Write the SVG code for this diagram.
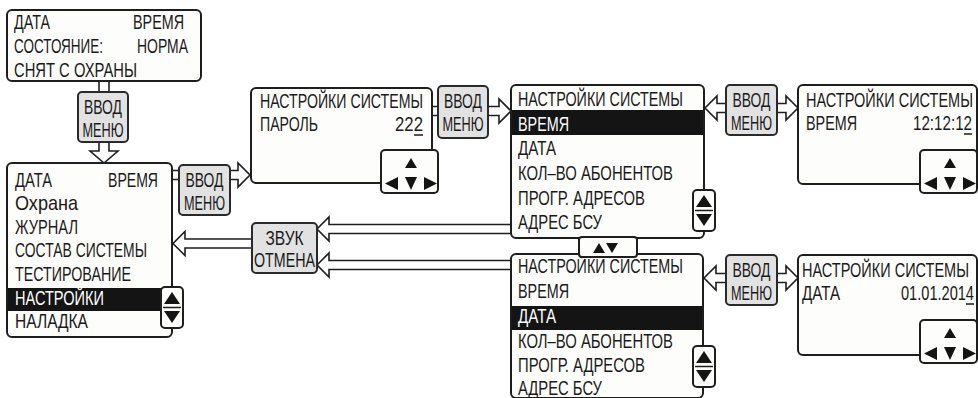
<svg xmlns="http://www.w3.org/2000/svg" xmlns:xlink="http://www.w3.org/1999/xlink" width="978" height="398" viewBox="0 0 978 398">
<style>
.box{fill:#fdfdfb;stroke:#1e1e1e;stroke-width:2}
.btn{fill:#e2e2e2;stroke:#2a2a2a;stroke-width:2}
.nav{fill:#fdfdfb;stroke:#1e1e1e;stroke-width:2}
.bar{fill:#141414}
.tri{fill:#141414}
.arr{fill:#ffffff;stroke:#1e1e1e;stroke-width:1.6;stroke-linejoin:miter}
.t{font-family:"Liberation Sans","DejaVu Sans",sans-serif;font-size:20px;fill:#1a1a1a}
.w{fill:#ffffff}
.ul{stroke:#1a1a1a;stroke-width:1.5}
</style>
<defs>
<g id="navbtn">
<rect class="nav" x="0" y="0" width="57" height="43" rx="4"/>
<polygon class="tri" points="24,18 36,18 30,8"/>
<polygon class="tri" points="4,33.5 17,27 17,40"/>
<polygon class="tri" points="24,27 36,27 30,40"/>
<polygon class="tri" points="43,27 43,40 56,33.5"/>
</g>
<g id="scroll">
<rect class="nav" x="0" y="0" width="22" height="41" rx="4"/>
<polygon class="tri" points="3,17 19,17 11,5"/>
<line x1="2" y1="20.5" x2="20" y2="20.5" stroke="#1e1e1e" stroke-width="1.5"/>
<polygon class="tri" points="3,24 19,24 11,36"/>
</g>
</defs>

<g id="connectors">
<path class="arr" d="M99,81 V151 H90 L104,163 L118,151 H109 V81"/>
<path class="arr" d="M172,170.5 H238 V163 L250,175 L238,187 V179.5 H172"/>
<path class="arr" d="M432,106.5 H499 V99 L511,111 L499,123 V115.5 H432"/>
<path class="arr" d="M705,108 L717,96 V103.5 H786 V96 L798,108 L786,120 V112.5 H717 V120 Z"/>
<path class="arr" d="M704,278 L716,266 V273.5 H786 V266 L798,278 L786,290 V282.5 H716 V290 Z"/>
<path class="arr" d="M511,224.5 H329 V217 L317,229 L329,241 V233.5 H511"/>
<path class="arr" d="M511,260.5 H329 V253 L317,265 L329,277 V269.5 H511"/>
<path class="arr" d="M252,239 H185 V231.5 L173,243.5 L185,255.5 V248 H252"/>
</g>

<g id="status">
<rect class="box" x="7" y="10" width="194" height="71" rx="5"/>
<text class="t" transform="matrix(0.75 0 0 1 14 29)" textLength="48" lengthAdjust="spacingAndGlyphs">ДАТА</text>
<text class="t" transform="matrix(0.75 0 0 1 133 29)" textLength="68" lengthAdjust="spacingAndGlyphs">ВРЕМЯ</text>
<text class="t" transform="matrix(0.75 0 0 1 14 53)" textLength="118.7" lengthAdjust="spacingAndGlyphs">СОСТОЯНИЕ:</text>
<text class="t" transform="matrix(0.75 0 0 1 137 53)" textLength="68" lengthAdjust="spacingAndGlyphs">НОРМА</text>
<text class="t" transform="matrix(0.75 0 0 1 14 77)" textLength="164" lengthAdjust="spacingAndGlyphs">СНЯТ С ОХРАНЫ</text>
</g>

<g id="btn-enter-1">
<rect class="btn" x="78" y="92" width="50" height="50" rx="4"/>
<text class="t" transform="matrix(0.75 0 0 1 84 114)" textLength="50.7" lengthAdjust="spacingAndGlyphs">ВВОД</text>
<text class="t" transform="matrix(0.75 0 0 1 82.5 137)" textLength="54.7" lengthAdjust="spacingAndGlyphs">МЕНЮ</text>
</g>

<g id="main-menu">
<rect class="box" x="7" y="163" width="165" height="174" rx="5"/>
<rect class="bar" x="8" y="288" width="163" height="23"/>
<text class="t" transform="matrix(0.75 0 0 1 15 187)" textLength="49.3" lengthAdjust="spacingAndGlyphs">ДАТА</text>
<text class="t" transform="matrix(0.75 0 0 1 108 187)" textLength="66.7" lengthAdjust="spacingAndGlyphs">ВРЕМЯ</text>
<text class="t" transform="matrix(0.75 0 0 1 15 210)" textLength="84" lengthAdjust="spacingAndGlyphs">Охрана</text>
<text class="t" transform="matrix(0.75 0 0 1 15 234)" textLength="84" lengthAdjust="spacingAndGlyphs">ЖУРНАЛ</text>
<text class="t" transform="matrix(0.75 0 0 1 15 257)" textLength="176" lengthAdjust="spacingAndGlyphs">СОСТАВ СИСТЕМЫ</text>
<text class="t" transform="matrix(0.75 0 0 1 15 281)" textLength="154.7" lengthAdjust="spacingAndGlyphs">ТЕСТИРОВАНИЕ</text>
<text class="t w" transform="matrix(0.75 0 0 1 15 305)" textLength="118.7" lengthAdjust="spacingAndGlyphs">НАСТРОЙКИ</text>
<text class="t" transform="matrix(0.75 0 0 1 15 328)" textLength="97.3" lengthAdjust="spacingAndGlyphs">НАЛАДКА</text>
<use xlink:href="#scroll" x="161" y="287"/>
</g>

<g id="btn-enter-2">
<rect class="btn" x="179" y="165" width="51" height="50" rx="4"/>
<text class="t" transform="matrix(0.75 0 0 1 185.5 187)" textLength="50.7" lengthAdjust="spacingAndGlyphs">ВВОД</text>
<text class="t" transform="matrix(0.75 0 0 1 184 210)" textLength="54.7" lengthAdjust="spacingAndGlyphs">МЕНЮ</text>
</g>

<g id="btn-sound">
<rect class="btn" x="252" y="223" width="65" height="50" rx="4"/>
<text class="t" transform="matrix(0.75 0 0 1 265.5 245)" textLength="50.7" lengthAdjust="spacingAndGlyphs">ЗВУК</text>
<text class="t" transform="matrix(0.75 0 0 1 254 267)" textLength="81.3" lengthAdjust="spacingAndGlyphs">ОТМЕНА</text>
</g>

<g id="password">
<rect class="box" x="251" y="88" width="181" height="95" rx="5"/>
<text class="t" transform="matrix(0.75 0 0 1 260 108)" textLength="217.3" lengthAdjust="spacingAndGlyphs">НАСТРОЙКИ СИСТЕМЫ</text>
<text class="t" transform="matrix(0.75 0 0 1 260 131)" textLength="77.3" lengthAdjust="spacingAndGlyphs">ПАРОЛЬ</text>
<text class="t" transform="matrix(0.75 0 0 1 395 131)" textLength="37.3" lengthAdjust="spacingAndGlyphs">222</text>
<line class="ul" x1="414" y1="135" x2="423" y2="135"/>
<use xlink:href="#navbtn" x="381" y="150"/>
</g>

<g id="btn-enter-3">
<rect class="btn" x="438" y="86" width="50" height="52" rx="4"/>
<text class="t" transform="matrix(0.75 0 0 1 444 108)" textLength="50.7" lengthAdjust="spacingAndGlyphs">ВВОД</text>
<text class="t" transform="matrix(0.75 0 0 1 442.5 131)" textLength="54.7" lengthAdjust="spacingAndGlyphs">МЕНЮ</text>
</g>

<g id="settings-time">
<rect class="box" x="511" y="85" width="193" height="153" rx="5"/>
<rect class="bar" x="512" y="110" width="191" height="25"/>
<text class="t" transform="matrix(0.75 0 0 1 518 106)" textLength="220" lengthAdjust="spacingAndGlyphs">НАСТРОЙКИ СИСТЕМЫ</text>
<text class="t w" transform="matrix(0.75 0 0 1 518 131)" textLength="68" lengthAdjust="spacingAndGlyphs">ВРЕМЯ</text>
<text class="t" transform="matrix(0.75 0 0 1 518 155)" textLength="50.7" lengthAdjust="spacingAndGlyphs">ДАТА</text>
<text class="t" transform="matrix(0.75 0 0 1 518 180)" textLength="206.7" lengthAdjust="spacingAndGlyphs">КОЛ–ВО АБОНЕНТОВ</text>
<text class="t" transform="matrix(0.75 0 0 1 518 205)" textLength="169.3" lengthAdjust="spacingAndGlyphs">ПРОГР. АДРЕСОВ</text>
<text class="t" transform="matrix(0.75 0 0 1 518 229)" textLength="112" lengthAdjust="spacingAndGlyphs">АДРЕС БСУ</text>
<use xlink:href="#scroll" x="693" y="190"/>
</g>

<g id="settings-date">
<rect class="box" x="511" y="254" width="192" height="144" rx="5"/>
<rect class="bar" x="512" y="306" width="190" height="24"/>
<text class="t" transform="matrix(0.75 0 0 1 518 273)" textLength="220" lengthAdjust="spacingAndGlyphs">НАСТРОЙКИ СИСТЕМЫ</text>
<text class="t" transform="matrix(0.75 0 0 1 518 298)" textLength="68" lengthAdjust="spacingAndGlyphs">ВРЕМЯ</text>
<text class="t w" transform="matrix(0.75 0 0 1 518 323)" textLength="50.7" lengthAdjust="spacingAndGlyphs">ДАТА</text>
<text class="t" transform="matrix(0.75 0 0 1 518 348)" textLength="206.7" lengthAdjust="spacingAndGlyphs">КОЛ–ВО АБОНЕНТОВ</text>
<text class="t" transform="matrix(0.75 0 0 1 518 372)" textLength="169.3" lengthAdjust="spacingAndGlyphs">ПРОГР. АДРЕСОВ</text>
<text class="t" transform="matrix(0.75 0 0 1 518 395)" textLength="112" lengthAdjust="spacingAndGlyphs">АДРЕС БСУ</text>
<use xlink:href="#scroll" x="693" y="346"/>
</g>

<g id="updown">
<rect class="nav" x="579" y="237" width="58" height="20" rx="3"/>
<polygon class="tri" points="593,253 605,253 599,243"/>
<polygon class="tri" points="606,243 618,243 612,253"/>
</g>

<g id="btn-enter-4">
<rect class="btn" x="726" y="85" width="51" height="50" rx="4"/>
<text class="t" transform="matrix(0.75 0 0 1 732.5 107)" textLength="50.7" lengthAdjust="spacingAndGlyphs">ВВОД</text>
<text class="t" transform="matrix(0.75 0 0 1 731 130)" textLength="54.7" lengthAdjust="spacingAndGlyphs">МЕНЮ</text>
</g>

<g id="btn-enter-5">
<rect class="btn" x="726" y="255" width="51" height="50" rx="4"/>
<text class="t" transform="matrix(0.75 0 0 1 732.5 277)" textLength="50.7" lengthAdjust="spacingAndGlyphs">ВВОД</text>
<text class="t" transform="matrix(0.75 0 0 1 731 300)" textLength="54.7" lengthAdjust="spacingAndGlyphs">МЕНЮ</text>
</g>

<g id="time-edit">
<rect class="box" x="798" y="85" width="179" height="99" rx="5"/>
<text class="t" transform="matrix(0.75 0 0 1 806 107)" textLength="222.7" lengthAdjust="spacingAndGlyphs">НАСТРОЙКИ СИСТЕМЫ</text>
<text class="t" transform="matrix(0.75 0 0 1 806 130)" textLength="68" lengthAdjust="spacingAndGlyphs">ВРЕМЯ</text>
<text class="t" transform="matrix(0.75 0 0 1 913 130)" textLength="78.7" lengthAdjust="spacingAndGlyphs">12:12:12</text>
<line class="ul" x1="964" y1="134" x2="972" y2="134"/>
<use xlink:href="#navbtn" x="920" y="150"/>
</g>

<g id="date-edit">
<rect class="box" x="798" y="255" width="179" height="100" rx="5"/>
<text class="t" transform="matrix(0.75 0 0 1 802 277)" textLength="222.7" lengthAdjust="spacingAndGlyphs">НАСТРОЙКИ СИСТЕМЫ</text>
<text class="t" transform="matrix(0.75 0 0 1 802 300)" textLength="50.7" lengthAdjust="spacingAndGlyphs">ДАТА</text>
<text class="t" transform="matrix(0.75 0 0 1 901 300)" textLength="97.3" lengthAdjust="spacingAndGlyphs">01.01.2014</text>
<line class="ul" x1="966" y1="304" x2="974" y2="304"/>
<use xlink:href="#navbtn" x="920" y="320"/>
</g>
</svg>
